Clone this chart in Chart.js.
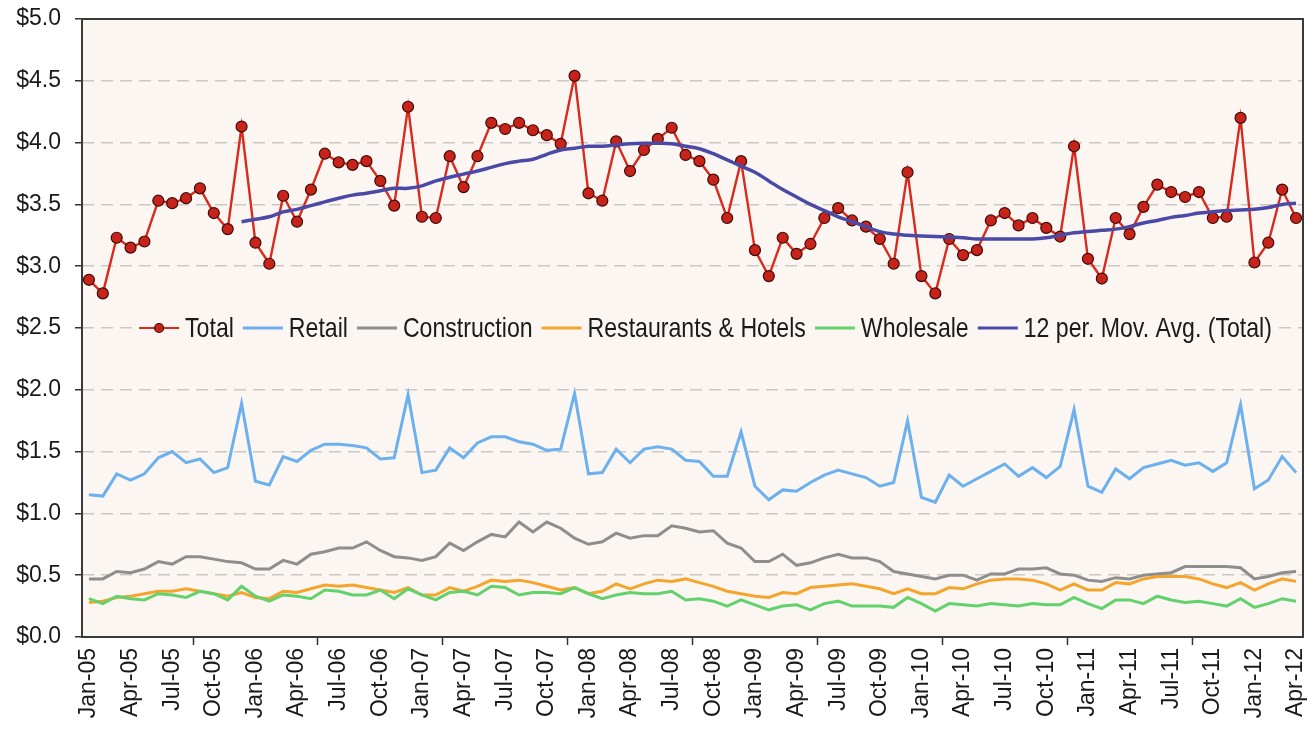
<!DOCTYPE html>
<html>
<head>
<meta charset="utf-8">
<script src="https://cdn.jsdelivr.net/npm/chart.js@4.4.1/dist/chart.umd.min.js"></script>
<style>
  body { margin: 0; background: #ffffff; }
  #wrap { position: relative; width: 1316px; height: 729px; }
</style>
</head>
<body>
<div id="wrap"><canvas id="mainChart"></canvas></div>
<script>
// categorias: meses de Jan-05 a Apr-12
const mesesNombres = ['Jan', 'Feb', 'Mar', 'Apr', 'May', 'Jun', 'Jul', 'Aug', 'Sep', 'Oct', 'Nov', 'Dec'];
const anios = ['05', '06', '07', '08', '09', '10', '11', '12'];
const categorias = [];
anios.forEach(a => {
    mesesNombres.forEach(m => categorias.push(m + '-' + a));
});
categorias.length = 88;

const total = [
    2.89, 2.78, 3.23, 3.15, 3.20, 3.53, 3.51, 3.55, 3.63, 3.43, 3.30, 4.13,
    3.19, 3.02, 3.57, 3.36, 3.62, 3.91, 3.84, 3.82, 3.85, 3.69, 3.49, 4.29,
    3.40, 3.39, 3.89, 3.64, 3.89, 4.16, 4.11, 4.16, 4.10, 4.06, 3.99, 4.54,
    3.59, 3.53, 4.01, 3.77, 3.94, 4.03, 4.12, 3.90, 3.85, 3.70, 3.39, 3.85,
    3.13, 2.92, 3.23, 3.10, 3.18, 3.39, 3.47, 3.37, 3.32, 3.22, 3.02, 3.76,
    2.92, 2.78, 3.22, 3.09, 3.13, 3.37, 3.43, 3.33, 3.39, 3.31, 3.24, 3.97,
    3.06, 2.90, 3.39, 3.26, 3.48, 3.66, 3.60, 3.56, 3.60, 3.39, 3.40, 4.20,
    3.03, 3.19, 3.62, 3.39
];
const retail = [
    1.15, 1.14, 1.32, 1.27, 1.32, 1.45, 1.50, 1.41, 1.44, 1.33, 1.37, 1.89,
    1.26, 1.23, 1.46, 1.42, 1.51, 1.56, 1.56, 1.55, 1.53, 1.44, 1.45, 1.96,
    1.33, 1.35, 1.53, 1.45, 1.57, 1.62, 1.62, 1.58, 1.56, 1.51, 1.52, 1.97,
    1.32, 1.33, 1.52, 1.41, 1.52, 1.54, 1.52, 1.43, 1.42, 1.30, 1.30, 1.66,
    1.22, 1.11, 1.19, 1.18, 1.25, 1.31, 1.35, 1.32, 1.29, 1.22, 1.25, 1.75,
    1.13, 1.09, 1.31, 1.22, 1.28, 1.34, 1.40, 1.30, 1.37, 1.29, 1.38, 1.84,
    1.22, 1.17, 1.36, 1.28, 1.37, 1.40, 1.43, 1.39, 1.41, 1.34, 1.41, 1.88,
    1.20, 1.27, 1.46, 1.33
];
const construction = [
    0.47, 0.47, 0.53, 0.52, 0.55, 0.61, 0.59, 0.65, 0.65, 0.63, 0.61, 0.60,
    0.55, 0.55, 0.62, 0.59, 0.67, 0.69, 0.72, 0.72, 0.77, 0.70, 0.65, 0.64,
    0.62, 0.65, 0.76, 0.70, 0.77, 0.83, 0.81, 0.93, 0.85, 0.93, 0.88, 0.80,
    0.75, 0.77, 0.84, 0.80, 0.82, 0.82, 0.90, 0.88, 0.85, 0.86, 0.76, 0.72,
    0.61, 0.61, 0.67, 0.58, 0.60, 0.64, 0.67, 0.64, 0.64, 0.61, 0.53, 0.51,
    0.49, 0.47, 0.50, 0.50, 0.46, 0.51, 0.51, 0.55, 0.55, 0.56, 0.51, 0.50,
    0.46, 0.45, 0.48, 0.47, 0.50, 0.51, 0.52, 0.57, 0.57, 0.57, 0.57, 0.56,
    0.47, 0.49, 0.52, 0.53
];
const restaurantes = [
    0.28, 0.29, 0.32, 0.33, 0.35, 0.37, 0.37, 0.39, 0.37, 0.35, 0.33, 0.36,
    0.32, 0.31, 0.37, 0.36, 0.39, 0.42, 0.41, 0.42, 0.40, 0.38, 0.36, 0.40,
    0.34, 0.34, 0.40, 0.37, 0.41, 0.46, 0.45, 0.46, 0.44, 0.41, 0.38, 0.40,
    0.35, 0.37, 0.43, 0.39, 0.43, 0.46, 0.45, 0.47, 0.44, 0.41, 0.37, 0.35,
    0.33, 0.32, 0.36, 0.35, 0.40, 0.41, 0.42, 0.43, 0.41, 0.39, 0.35, 0.39,
    0.35, 0.35, 0.40, 0.39, 0.43, 0.46, 0.47, 0.47, 0.46, 0.43, 0.38, 0.43,
    0.38, 0.38, 0.44, 0.43, 0.47, 0.49, 0.49, 0.49, 0.47, 0.43, 0.40, 0.44,
    0.38, 0.43, 0.47, 0.45
];
const wholesale = [
    0.31, 0.27, 0.33, 0.31, 0.30, 0.35, 0.34, 0.32, 0.37, 0.35, 0.30, 0.41,
    0.33, 0.29, 0.34, 0.33, 0.31, 0.38, 0.37, 0.34, 0.34, 0.38, 0.31, 0.39,
    0.34, 0.30, 0.36, 0.37, 0.34, 0.41, 0.40, 0.34, 0.36, 0.36, 0.35, 0.40,
    0.35, 0.31, 0.34, 0.36, 0.35, 0.35, 0.37, 0.30, 0.31, 0.29, 0.25, 0.30,
    0.26, 0.22, 0.25, 0.26, 0.22, 0.27, 0.29, 0.25, 0.25, 0.25, 0.24, 0.32,
    0.27, 0.21, 0.27, 0.26, 0.25, 0.27, 0.26, 0.25, 0.27, 0.26, 0.26, 0.32,
    0.27, 0.23, 0.30, 0.30, 0.27, 0.33, 0.30, 0.28, 0.29, 0.27, 0.25, 0.31,
    0.24, 0.27, 0.31, 0.29
];
// media movil de 12 periodos (empieza en Dec-05)
const mediaMovil = [
    null, null, null, null, null, null, null, null, null, null, null, 3.36,
    3.38, 3.40, 3.44, 3.46, 3.49, 3.52, 3.55, 3.575, 3.59, 3.61, 3.63, 3.63,
    3.65, 3.69, 3.72, 3.745, 3.77, 3.80, 3.83, 3.85, 3.865, 3.905, 3.94, 3.955,
    3.97, 3.97, 3.98, 3.99, 3.995, 3.995, 3.99, 3.97, 3.95, 3.91, 3.86, 3.81,
    3.76, 3.69, 3.62, 3.56, 3.50, 3.45, 3.40, 3.36, 3.32, 3.28, 3.26, 3.25,
    3.245, 3.24, 3.235, 3.23, 3.22, 3.22, 3.22, 3.22, 3.22, 3.23, 3.25, 3.27,
    3.28, 3.29, 3.30, 3.32, 3.35, 3.37, 3.395, 3.41, 3.43, 3.44, 3.45, 3.455,
    3.46, 3.475, 3.50, 3.51
];
const yTicks = [0, 0.5, 1, 1.5, 2, 2.5, 3, 3.5, 4, 4.5, 5];

const FONDO = '#fbf6f2';
const FUENTE = "'Liberation Sans', Arial, sans-serif";

// fondo del area del grafico y borde
const fondoPlugin = {
    id: 'fondoArea',
    beforeDraw(chart) {
        const a = chart.chartArea;
        const ctx = chart.ctx;
        ctx.save();
        ctx.fillStyle = FONDO;
        ctx.fillRect(a.left, a.top, a.right - a.left, a.bottom - a.top);
        ctx.restore();
    },
    afterDraw(chart) {
        const a = chart.chartArea;
        const ctx = chart.ctx;
        ctx.save();
        ctx.strokeStyle = '#3a3a3a';
        ctx.lineWidth = 2;
        ctx.strokeRect(a.left, a.top, a.right - a.left, a.bottom - a.top);
        ctx.restore();
    }
};

// leyenda dibujada dentro del area, a la altura de $2.5 (texto estrecho)
const leyendaPlugin = {
    id: 'leyendaDentro',
    afterDraw(chart) {
        const ctx = chart.ctx;
        const a = chart.chartArea;
        const y = chart.scales.y.getPixelForValue(2.5);
        const lineLen = 40, gapTexto = 6, gapItem = 9, estrecho = 0.825;
        ctx.save();
        ctx.font = '28px ' + FUENTE;
        const items = chart.data.datasets.map(ds => ({
            label: ds.label,
            color: ds.borderColor,
            punto: ds.pointRadius > 0,
            fill: ds.pointBackgroundColor,
            border: ds.pointBorderColor,
            w: ctx.measureText(ds.label).width * estrecho
        }));
        let ancho = 0;
        items.forEach((it, i) => {
            ancho += lineLen + gapTexto + it.w + (i < items.length - 1 ? gapItem : 0);
        });
        const centro = (a.left + a.right) / 2 + 13;
        let x = centro - ancho / 2;
        ctx.fillStyle = FONDO;
        ctx.fillRect(x - 4, y - 18, ancho + 8, 36);
        ctx.textBaseline = 'middle';
        items.forEach(it => {
            ctx.strokeStyle = it.color;
            ctx.lineWidth = it.punto ? 2.2 : 3;
            ctx.beginPath();
            ctx.moveTo(x, y);
            ctx.lineTo(x + lineLen, y);
            ctx.stroke();
            if (it.punto) {
                ctx.beginPath();
                ctx.arc(x + lineLen / 2, y, 4.5, 0, Math.PI * 2);
                ctx.fillStyle = it.fill;
                ctx.fill();
                ctx.lineWidth = 1.2;
                ctx.strokeStyle = it.border;
                ctx.stroke();
            }
            x += lineLen + gapTexto;
            ctx.save();
            ctx.translate(x, y + 1);
            ctx.scale(estrecho, 1);
            ctx.fillStyle = '#1a1a1a';
            ctx.fillText(it.label, 0, 0);
            ctx.restore();
            x += it.w + gapItem;
        });
        ctx.restore();
    }
};

const chartCtx = document.getElementById('mainChart').getContext('2d');
new Chart(chartCtx, {
    type: 'line',
    data: {
        labels: categorias,
        datasets: [
            {
                label: 'Total',
                data: total,
                borderColor: '#d92a1e',
                borderWidth: 2.4,
                pointRadius: 5.5,
                pointBackgroundColor: '#c8231a',
                pointBorderColor: '#3d0a06',
                pointBorderWidth: 1.2,
                tension: 0,
                order: 1
            },
            {
                label: 'Retail',
                data: retail,
                borderColor: '#6cb0ee',
                borderWidth: 3,
                pointRadius: 0,
                tension: 0,
                order: 2
            },
            {
                label: 'Construction',
                data: construction,
                borderColor: '#8e8e8e',
                borderWidth: 3,
                pointRadius: 0,
                tension: 0,
                order: 5
            },
            {
                label: 'Restaurants & Hotels',
                data: restaurantes,
                borderColor: '#f4a52e',
                borderWidth: 3,
                pointRadius: 0,
                tension: 0,
                order: 4
            },
            {
                label: 'Wholesale',
                data: wholesale,
                borderColor: '#63d16c',
                borderWidth: 3,
                pointRadius: 0,
                tension: 0,
                order: 3
            },
            {
                label: '12 per. Mov. Avg. (Total)',
                data: mediaMovil,
                borderColor: '#4a4aa6',
                borderWidth: 3.5,
                pointRadius: 0,
                tension: 0.4,
                order: 0
            }
        ]
    },
    options: {
        responsive: true,
        maintainAspectRatio: false,
        animation: false,
        layout: {
            padding: { left: 0, right: 13, top: 19, bottom: 0 }
        },
        plugins: {
            legend: { display: false },
            title: { display: false },
            tooltip: { enabled: false }
        },
        scales: {
            x: {
                type: 'category',
                offset: true,
                afterFit: (scale) => {
                    scale.height = 92;
                    scale.paddingLeft = 0;
                    scale.paddingRight = 0;
                },
                grid: {
                    offset: true,
                    drawOnChartArea: false,
                    drawTicks: true,
                    tickLength: 8,
                    tickWidth: 1.5,
                    tickColor: (c) => (c.index % 3 === 0 ? '#333333' : 'rgba(0,0,0,0)')
                },
                border: { display: false },
                ticks: {
                    autoSkip: false,
                    maxRotation: 90,
                    minRotation: 90,
                    padding: 3,
                    color: '#1a1a1a',
                    font: { family: FUENTE, size: 23 },
                    callback: function (value, index) {
                        return index % 3 === 0 ? this.getLabelForValue(value) : null;
                    }
                }
            },
            y: {
                min: 0,
                max: 5,
                afterFit: (scale) => {
                    scale.width = 82;
                    scale.paddingTop = 0;
                    scale.paddingBottom = 0;
                },
                afterBuildTicks: (scale) => {
                    scale.ticks = yTicks.map(v => ({ value: v }));
                },
                grid: {
                    drawTicks: true,
                    tickLength: 7,
                    tickWidth: 1.5,
                    tickColor: '#333333',
                    lineWidth: 1.5,
                    color: (c) => (c.tick && (c.tick.value === 0 || c.tick.value === 5) ? 'rgba(0,0,0,0)' : '#cbc7c3')
                },
                border: { display: false, dash: [12, 7] },
                ticks: {
                    padding: 14,
                    color: '#1a1a1a',
                    font: { family: FUENTE, size: 23 },
                    callback: (v) => '$' + Number(v).toFixed(1)
                }
            }
        }
    },
    plugins: [fondoPlugin, leyendaPlugin]
});
</script>
</body>
</html>
